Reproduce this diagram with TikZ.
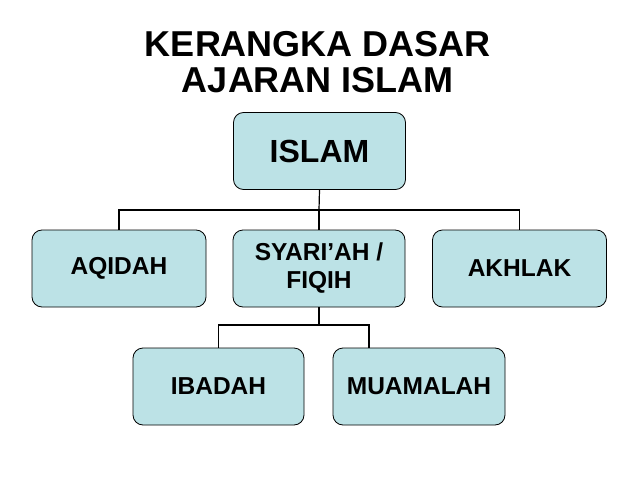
\documentclass[tikz,border=0pt]{standalone}
\usepackage{fontspec}
\setmainfont{Liberation Sans}
\begin{document}
\begin{tikzpicture}[x=1pt,y=-1pt,
  box/.style={draw=black,line width=0.8pt,fill=boxfill,rounded corners=10pt,minimum width=172pt,minimum height=77pt,align=center,font=\bfseries\fontsize{24.5}{28}\selectfont,inner sep=2pt},
  conn/.style={line width=1.2pt}]
\definecolor{boxfill}{HTML}{BCE2E6}
\useasboundingbox (0,0) rectangle (638,479);
\node[font=\bfseries\fontsize{36}{36}\selectfont,align=center] (title) at (318,62) {KERANGKA DASAR\\ AJARAN ISLAM};
\node[box,font=\bfseries\fontsize{32}{36}\selectfont] (islam) at (319.5,151) {ISLAM};
\node[box,minimum width=174pt] (aqidah) at (119,268.5) {AQIDAH};
\node[box] (syariah) at (319,268.5) {SYARI'AH /\\FIQIH};
\node[box,minimum width=174pt] (akhlak) at (519.5,268.5) {AKHLAK};
\node[box,minimum width=171pt] (ibadah) at (218.5,386.5) {IBADAH};
\node[box] (muamalah) at (419,386.5) {MUAMALAH};
\coordinate (j1) at (319,210);
\coordinate (j2) at (319,325);
\coordinate (mu) at (369,325);
\draw[conn] (islam.south) -- (j1);
\draw[conn] (j1) -| (aqidah.north);
\draw[conn] (j1) -| (akhlak.north);
\draw[conn] (j1) -- (syariah.north);
\draw[conn] (syariah.south) -- (j2);
\draw[conn] (j2) -| (ibadah.north);
\draw[conn] (j2) -- (mu) -- (mu |- muamalah.north);
\end{tikzpicture}
\end{document}
